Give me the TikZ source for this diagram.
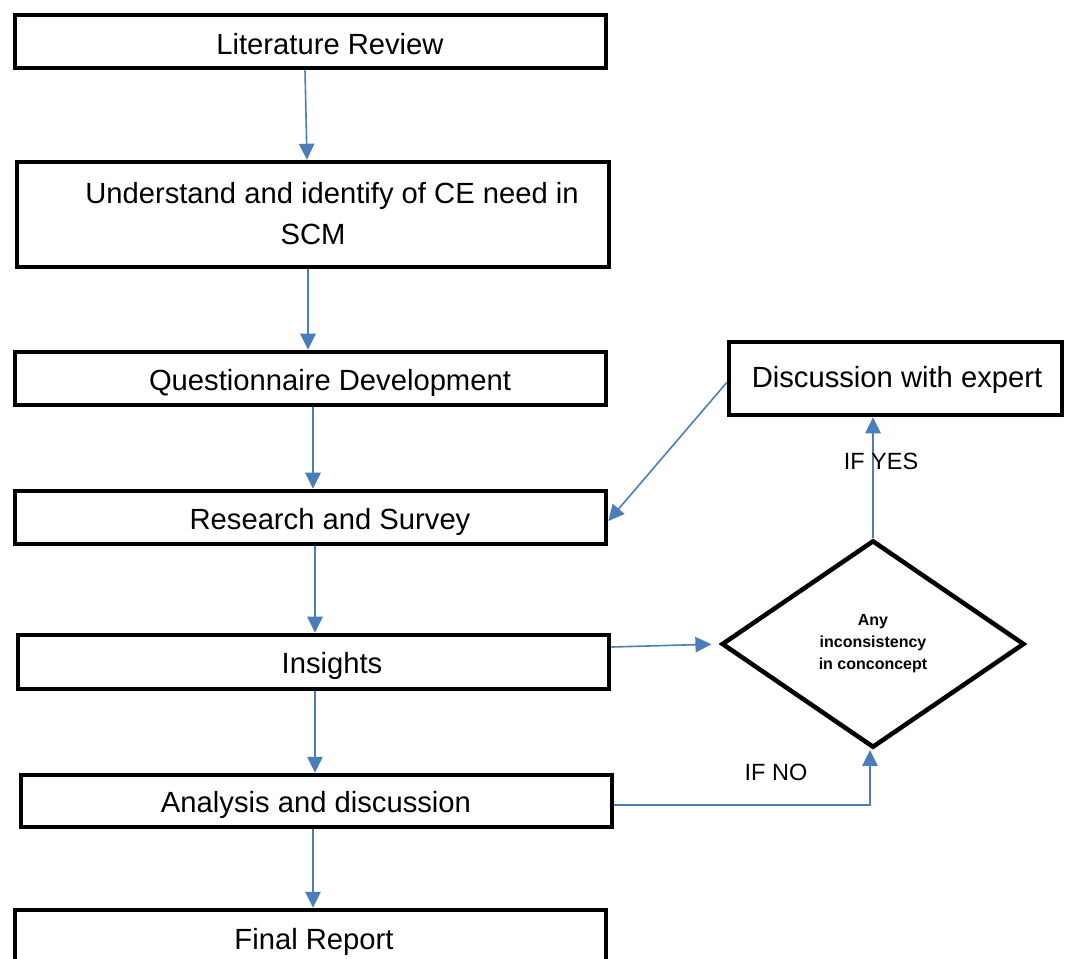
\documentclass[tikz,border=0pt]{standalone}
\usepackage{fontspec}
\setmainfont{Liberation Sans}
\usetikzlibrary{arrows.meta,calc,shapes.geometric}
\definecolor{flowblue}{RGB}{74,126,187}
\begin{document}
\begin{tikzpicture}[x=0.75pt,y=-0.75pt,
  stepbox/.style={draw,line width=3.4pt,inner sep=0pt,minimum width=443.25pt},
  boxtext/.style={font=\fontsize{21.9}{26}\selectfont,inner sep=0pt},
  flow/.style={draw=flowblue,line width=1.2pt,-{Triangle[length=12pt,width=11.5pt]}},
  cond/.style={font=\fontsize{17.6}{20}\selectfont,inner sep=0pt}]
\useasboundingbox (0,0) rectangle (1066,958);
\clip (0,0) rectangle (1066,958);

% process boxes
\node[stepbox,minimum height=39.75pt] (lit) at (310.5,41.5) {};
\node[stepbox,minimum height=78.75pt,minimum width=444pt] (und) at (313,214.5) {};
\node[stepbox,minimum height=39.75pt] (que) at (310.5,378.5) {};
\node[stepbox,minimum height=39.75pt] (srv) at (310.5,517.5) {};
\node[stepbox,minimum height=40.5pt] (ins) at (313.5,662) {};
\node[stepbox,minimum height=39pt] (ana) at (316.5,801) {};
\node[stepbox,minimum height=45pt] (fin) at (310.5,940) {};
\node[stepbox,minimum height=54.75pt,minimum width=249.75pt] (exp) at (895.5,378.5) {};

% box captions
\node[boxtext] (litT) at (330,44) {Literature Review};
\node[boxtext,align=center,font=\fontsize{21.9}{30.75}\selectfont] (undT) at (332,213.5)
  {Understand and identify of CE need in\\\hspace*{-28.5pt}SCM};
\node[boxtext] (queT) at (330,382.5) {Questionnaire Development};
\node[boxtext] (srvT) at (330,521.5) {Research and Survey};
\node[boxtext] (insT) at (332,666) {Insights};
\node[boxtext] (anaT) at (316,805) {Analysis and discussion};
\node[boxtext] (finT) at (314,942) {Final Report};
\node[boxtext] (expT) at (897,379.5) {Discussion with expert};

% decision
\node[draw,diamond,line width=3.4pt,inner sep=0pt,minimum width=227pt,minimum height=155.5pt,
  align=center,font=\bfseries\fontsize{12}{16.5}\selectfont] (dec) at (873,644)
  {Any\\inconsistency\\in conconcept};

% main sequence
\draw[flow] ($(lit.south)+(-5.5,0)$) -- ($(und.north)+(-6,0)$);
\draw[flow] ($(und.south)+(-5,0)$) -- ($(que.north)+(-2.5,0)$);
\draw[flow] ($(que.south)+(2.5,0)$) -- ($(srv.north)+(2.5,0)$);
\draw[flow] ($(srv.south)+(4.5,0)$) -- ($(ins.north)+(1.5,0)$);
\draw[flow] ($(ins.south)+(1.5,0)$) -- ($(ana.north)+(-1.5,0)$);
\draw[flow] ($(ana.south)+(-3.5,0)$) -- ($(fin.north)+(2.5,0)$);

% decision loop
\draw[flow,shorten >=6pt] ($(ins.east)+(0,-15)$) -- (dec.west);
\draw[flow] (dec.north) -- (dec.north |- exp.south);
\draw[flow] ($(exp.west)+(0,4)$) -- ($(srv.east)+(0,3.5)$);
\draw[flow] ($(ana.east)+(0,4)$) -| ($(dec.south)+(-3,0)$);

% branch labels
\node[cond] (yes) at (881,461) {IF YES};
\node[cond] (no) at (776,772) {IF NO};
\end{tikzpicture}
\end{document}
